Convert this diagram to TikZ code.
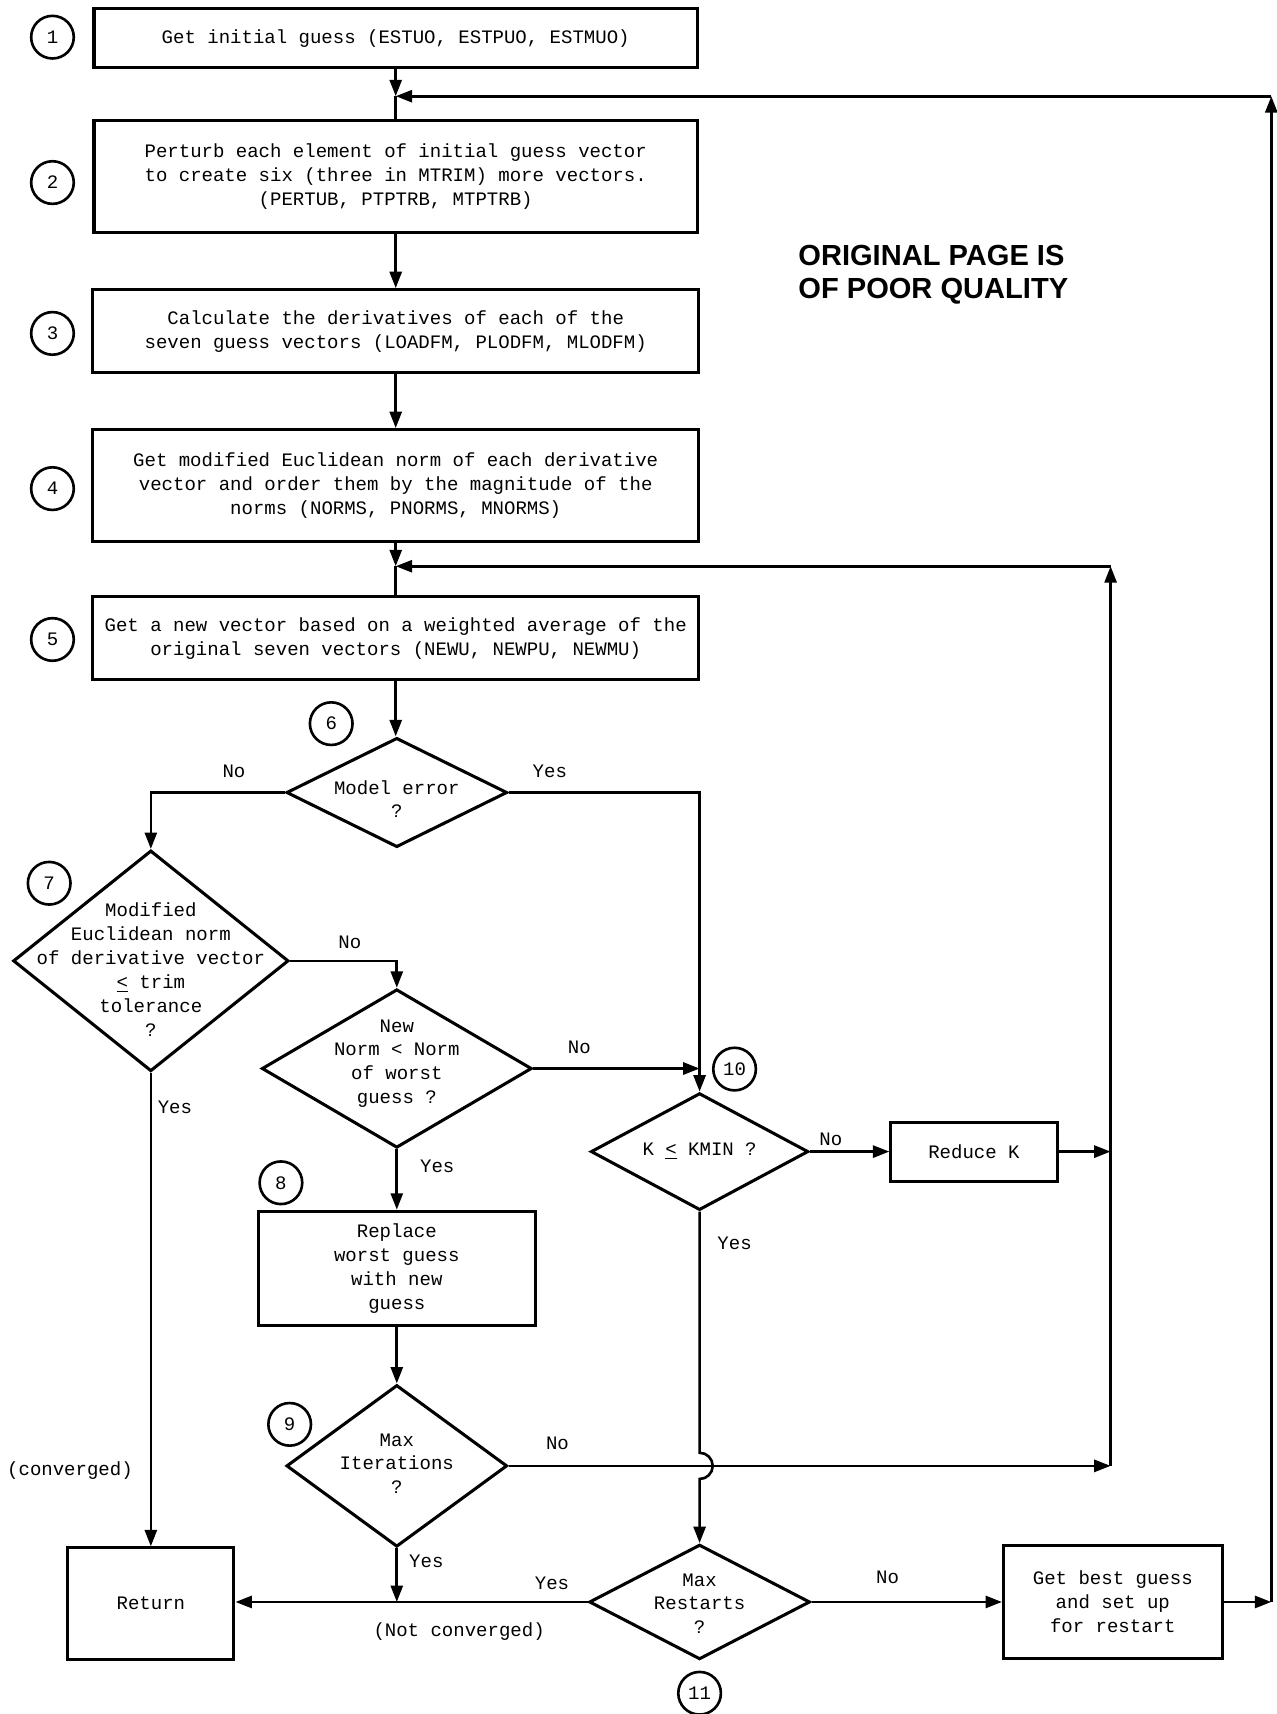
\documentclass[tikz,border=0pt]{standalone}
\usepackage{fontspec}
\setmonofont{Liberation Mono}
\newfontfamily\stampfont{Liberation Sans}
\usetikzlibrary{shapes.geometric,arrows.meta,calc}
\begin{document}
\begin{tikzpicture}[x=0.5pt,y=-0.5pt,
  every node/.style={font=\ttfamily\fontsize{8.7}{10.9}\selectfont},
  box/.style={draw,line width=1.4pt,inner sep=0pt,align=center},
  dia/.style={draw,diamond,line width=1.4pt,inner sep=0pt},
  num/.style={draw,circle,line width=1.2pt,minimum size=19.5pt,inner sep=0pt},
  txt/.style={align=center,inner sep=0pt},
  lbl/.style={inner sep=0pt},
  ln/.style={line width=1.2pt},
  arr/.style={line width=1.2pt,-{Triangle[length=7.5pt,width=5.5pt]}},
]
\useasboundingbox (0,0) rectangle (1168,1568);

% process boxes
\node[box,minimum width=276pt,minimum height=27pt] (b1) at (362,35) {Get initial guess (ESTUO, ESTPUO, ESTMUO)};
\node[box,minimum width=276pt,minimum height=51.5pt] (b2) at (362,161.5) {Perturb each element of initial guess vector\\to create six (three in MTRIM) more vectors.\\(PERTUB, PTPTRB, MTPTRB)};
\node[box,minimum width=277pt,minimum height=38pt] (b3) at (362,303) {Calculate the derivatives of each of the\\seven guess vectors (LOADFM, PLODFM, MLODFM)};
\node[box,minimum width=277pt,minimum height=51pt] (b4) at (362,444) {Get modified Euclidean norm of each derivative\\vector and order them by the magnitude of the\\norms (NORMS, PNORMS, MNORMS)};
\node[box,minimum width=277pt,minimum height=38pt] (b5) at (362,584) {Get a new vector based on a weighted average of the\\original seven vectors (NEWU, NEWPU, NEWMU)};
\node[box,minimum width=126.5pt,minimum height=52.5pt] (b8) at (363,1160.5) {Replace\\worst guess\\with new\\guess};
\node[box,minimum width=76pt,minimum height=27pt] (rk) at (891,1053.5) {Reduce K};
\node[box,minimum width=100pt,minimum height=52pt] (gb) at (1018,1465.5) {Get best guess\\and set up\\for restart};
\node[box,minimum width=76pt,minimum height=51pt] (ret) at (138,1467) {Return};

% decisions
\node[dia,minimum width=101pt,minimum height=50pt] (d6) at (363,725) {};
\node[txt] (d6t) at (363,731) {Model error\\?};
\node[dia,minimum width=126pt,minimum height=101pt] (d7) at (138,879) {};
\node[txt] (d7t) at (138,887) {Modified\\Euclidean norm\\of derivative vector\\\underline{<} trim\\tolerance\\?};
\node[dia,minimum width=123.5pt,minimum height=72.5pt] (nn) at (363,977.5) {};
\node[txt] (nnt) at (363,973) {New\\Norm < Norm\\of worst\\guess ?};
\node[dia,minimum width=101pt,minimum height=74pt] (d9) at (363,1341) {};
\node[txt] (d9t) at (363,1339) {Max\\Iterations\\?};
\node[dia,minimum width=99.5pt,minimum height=53.5pt] (d10) at (640,1053.5) {};
\node[txt] (d10t) at (640,1053) {K \underline{<} KMIN ?};
\node[dia,minimum width=101pt,minimum height=52.5pt] (d11) at (640,1465.5) {};
\node[txt] (d11t) at (640,1467) {Max\\Restarts\\?};

% step numbers
\node[num] (n1) at (48,34) {1};
\node[num] (n2) at (48,167) {2};
\node[num] (n3) at (48,305) {3};
\node[num] (n4) at (48,447) {4};
\node[num] (n5) at (48,585) {5};
\node[num] (n6) at (303,662) {6};
\node[num] (n7) at (45,808) {7};
\node[num] (n8) at (257,1082) {8};
\node[num] (n9) at (265,1303) {9};
\node[num] (n10) at (672,978) {10};
\node[num] (n11) at (640,1549) {11};

% branch labels
\node[lbl] (l6n) at (214,706) {No};
\node[lbl] (l6y) at (503,706) {Yes};
\node[lbl] (l7n) at (320,862) {No};
\node[lbl] (l7y) at (160,1013) {Yes};
\node[lbl] (lnn) at (530,958) {No};
\node[lbl] (lny) at (400,1067) {Yes};
\node[lbl] (l10n) at (760,1042) {No};
\node[lbl] (l10y) at (672,1137) {Yes};
\node[lbl] (l9n) at (510,1320) {No};
\node[lbl] (l9y) at (390,1428) {Yes};
\node[lbl] (l11n) at (812,1443) {No};
\node[lbl] (l11y) at (505,1448) {Yes};
\node[lbl] (conv) at (64,1345) {(converged)};
\node[lbl] (nconv) at (420,1493) {(Not converged)};

% stamp
\node[anchor=west,align=left,inner sep=0pt,font=\stampfont\bfseries\fontsize{13.3}{15}\selectfont] (stamp) at (730,251) {ORIGINAL PAGE IS\\OF POOR QUALITY};

% junction coordinates
\coordinate (m1) at (362,88);
\coordinate (m2) at (362,518);
\coordinate (rx) at (1163,1465.5);
\coordinate (rt) at (1163,88);
\coordinate (kx) at (1016,1053.5);
\coordinate (ix) at (1016,1341);
\coordinate (kt) at (1016,518);

% connectors
\draw[arr] (b1) -- (m1);
\draw[ln] (m1) -- (b2);
\draw[arr] (b2) -- (b3);
\draw[arr] (b3) -- (b4);
\draw[arr] (b4) -- (m2);
\draw[ln] (m2) -- (b5);
\draw[arr] (b5.south) -- (b5.south |- d6.north);
\draw[arr] (d6.west) -| (d7.north);
\draw[arr] (d6.east) -| (d10.north);
\draw[arr] (d7.east) -| (nn.north);
\draw[arr] (d7.south) -- (ret.north);
\draw[arr] (nn.east) -- (nn.east -| d10.north);
\draw[arr] (nn.south) -- (b8.north);
\draw[arr] (b8.south) -- (d9.north);
\draw[arr] (d10.east) -- (rk.west);
\draw[arr] (rk.east) -- (kx);
\draw[arr] (d9.east) -- (ix);
\draw[arr] (ix) -- (kt);
\draw[arr] (kt) -- (m2);
\draw[arr] (d10.south) -- ($(d10.south |- d9.east)+(0,-12)$) arc[start angle=90,end angle=-90,radius=6pt] -- (d11.north);
\draw[arr] (d9.south) -- (d9.south |- d11.west);
\draw[arr] (d11.west) -- (d11.west -| ret.east);
\draw[arr] (d11.east) -- (gb.west);
\draw[arr] (gb.east) -- (rx);
\draw[arr] (rx) -- (rt);
\draw[arr] (rt) -- (m1);
\end{tikzpicture}
\end{document}
